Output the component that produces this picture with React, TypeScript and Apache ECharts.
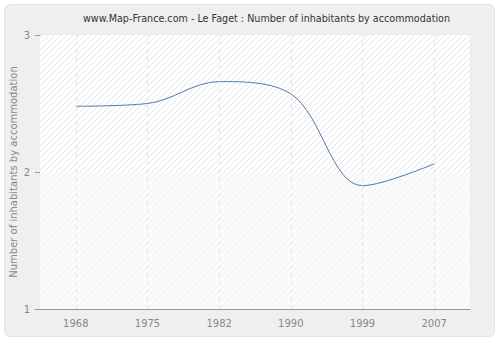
import React, { useEffect, useRef } from "react";
import * as echarts from "echarts";

const titleText = "www.Map-France.com - Le Faget : Number of inhabitants by accommodation";
const yAxisName = "Number of inhabitants by accommodation";
const years = ["1968", "1975", "1982", "1990", "1999", "2007"];
const values = [2.48, 2.5, 2.66, 2.57, 1.9, 2.06];
const yMin = 1;
const yMax = 3;
const yInterval = 1;

function makePattern(bg: string, line: string): string {
  const c = document.createElement("canvas");
  c.width = 6;
  c.height = 6;
  const ctx = c.getContext("2d");
  if (!ctx) return "";
  ctx.fillStyle = bg;
  ctx.fillRect(0, 0, 6, 6);
  ctx.strokeStyle = line;
  ctx.lineWidth = 1;
  ctx.beginPath();
  ctx.moveTo(0, 6);
  ctx.lineTo(6, 0);
  ctx.moveTo(-3, 3);
  ctx.lineTo(3, -3);
  ctx.moveTo(3, 9);
  ctx.lineTo(9, 3);
  ctx.stroke();
  return c.toDataURL();
}

export default function App() {
  const ref = useRef<HTMLDivElement>(null);
  useEffect(() => {
    if (!ref.current) return;
    const chart = echarts.init(ref.current, undefined, { renderer: "svg" });
    const upper = makePattern("#ffffff", "#e4e4e4");
    const lower = makePattern("#fbfbfb", "#f1f1f1");
    chart.setOption({
      animation: false,
      backgroundColor: "#ffffff",
      graphic: [
        {
          type: "rect",
          shape: { x: 4.5, y: 4.5, width: 490, height: 332, r: 6 },
          style: { fill: "#efefef", stroke: "#e2e2e2", lineWidth: 1 },
          z: -10,
        },
      ],
      title: {
        text: titleText,
        left: 83,
        top: 13,
        padding: 0,
        textStyle: {
          fontFamily: "DejaVu Sans",
          fontSize: 9.6,
          fontWeight: "normal",
          color: "#333333",
        },
      },
      grid: {
        left: 40,
        right: 30,
        top: 35,
        bottom: 31,
        outerBoundsMode: "none",
        containLabel: false,
        show: true,
        backgroundColor: "#fbfbfb",
        borderColor: "#e6e6e6",
        borderWidth: 1,
      },
      xAxis: {
        type: "category",
        data: years,
        boundaryGap: true,
        axisLine: { lineStyle: { color: "#999999" } },
        axisTick: { alignWithLabel: true, length: 5, lineStyle: { color: "#999999" } },
        axisLabel: { color: "#888888", fontFamily: "DejaVu Sans", fontSize: 10, margin: 9 },
        splitLine: { show: false },
      },
      yAxis: {
        type: "value",
        min: yMin,
        max: yMax,
        interval: yInterval,
        name: yAxisName,
        nameLocation: "middle",
        nameGap: 22,
        nameMoveOverlap: false,
        nameTextStyle: { color: "#888888", fontFamily: "DejaVu Sans", fontSize: 10 },
        axisLine: { show: true, lineStyle: { color: "#999999" } },
        axisTick: { show: true, length: 5, lineStyle: { color: "#999999" } },
        axisLabel: { color: "#888888", fontFamily: "DejaVu Sans", fontSize: 10, margin: 10 },
        splitLine: { show: true, lineStyle: { color: "#e2e2e2", type: [4, 4] } },
      },
      series: [
        {
          type: "line",
          data: [],
          silent: true,
          z: 1,
          markArea: {
            silent: true,
            data: [
              [{ yAxis: 2, itemStyle: { color: { image: upper, repeat: "repeat" } } }, { yAxis: 3 }],
              [{ yAxis: 1, itemStyle: { color: { image: lower, repeat: "repeat" } } }, { yAxis: 2 }],
            ],
          },
          markLine: {
            silent: true,
            symbol: "none",
            label: { show: false },
            lineStyle: { color: "#e2e2e2", type: [4, 4], width: 1 },
            data: years.map((y) => ({ xAxis: y })),
          },
        },
        {
          type: "line",
          data: values,
          smooth: 0.35,
          showSymbol: false,
          lineStyle: { color: "#4f7bab", width: 1 },
          z: 3,
        },
      ],
    });
    return () => chart.dispose();
  }, []);
  return <div ref={ref} style={{ position: "absolute", left: 0, top: 0, width: 500, height: 340 }} />;
}
